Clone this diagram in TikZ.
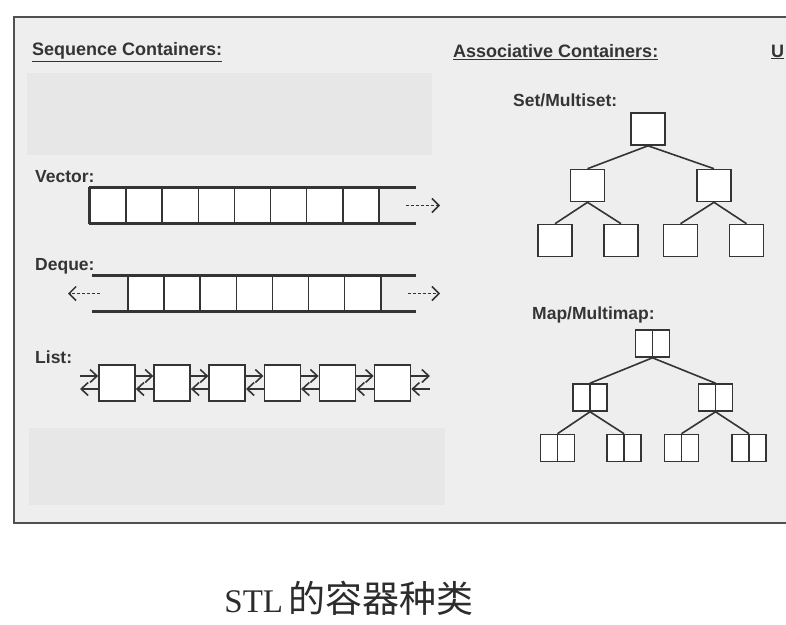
\documentclass[tikz,border=0pt]{standalone}
\usepackage{fontspec}
\setmainfont{Liberation Serif}
\setsansfont{Liberation Sans}
\newfontfamily\cjk{Noto Sans CJK SC}
\usepackage{tikz}
\usetikzlibrary{positioning,arrows.meta,calc}
\definecolor{ink}{RGB}{52,52,52}
\definecolor{paper}{RGB}{238,238,238}
\definecolor{blank}{RGB}{231,231,231}
\definecolor{frameln}{RGB}{80,80,80}
\tikzset{
  head/.style={font=\sffamily\bfseries\fontsize{18}{20}\selectfont, text=ink,
    anchor=west, inner sep=0pt},
  lbl/.style={font=\sffamily\bfseries\fontsize{17.5}{20}\selectfont, text=ink,
    anchor=west, inner sep=0pt},
  cell/.style={draw=ink, fill=white, line width=1.6pt, minimum width=36.1pt,
    minimum height=35pt, inner sep=0pt},
  lcell/.style={draw=ink, fill=white, line width=1.6pt, minimum width=36pt,
    minimum height=36pt, inner sep=0pt},
  tcell/.style={draw=ink, fill=white, line width=1.6pt, minimum width=34pt,
    minimum height=32pt, inner sep=0pt},
  mcell/.style={draw=ink, fill=white, line width=1.6pt, minimum width=34pt,
    minimum height=27pt, inner sep=0pt,
    path picture={\draw[ink, line width=1.6pt] (path picture bounding box.north)
      -- (path picture bounding box.south);}},
  rail/.style={draw=ink, line width=3.2pt},
  growarrow/.style={-{Straight Barb[length=7pt,width=14pt,line width=1.5pt]},
    dash pattern=on 3pt off 2pt, line width=1.3pt, draw=ink},
  link/.style={-{Straight Barb[length=7pt,width=13pt,line width=1.6pt]},
    line width=1.6pt, draw=ink},
  treeedge/.style={line width=1.6pt, draw=ink},
}

\begin{document}
\begin{tikzpicture}[x=1pt,y=-1pt]
  \clip (0,0) rectangle (786,624);
  \fill[white] (0,0) rectangle (786,624);
  \filldraw[fill=paper, draw=frameln, line width=1.8pt] (14,17) rectangle (800,523);
  \fill[blank] (27,73) rectangle (432,155);
  \fill[blank] (29,428) rectangle (445,505);

  % headings
  \node[head] (seqh) at (32,52) {\underline{Sequence Containers:}};
  \node[head] (assh) at (453,52) {\underline{Associative Containers:}};
  \node[head] (unoh) at (771,52) {\underline{U}};

  % vector
  \node[lbl] (vecl) at (35,177) {Vector:};
  \foreach \i in {1,...,8}
    \node[cell] (v\i) at ({90+36.1*(\i-0.5)},205.5) {};
  \coordinate (vend) at (416,205.5);
  \draw[rail] (v1.north west) -- (v1.north west -| vend);
  \draw[rail] (v1.south west) -- (v1.south west -| vend);
  \draw[rail] (v1.north west) -- (v1.south west);
  \coordinate (vout) at (440,205.5);
  \draw[growarrow] ([xshift=26pt]v8.east) -- (vout);

  % deque
  \node[lbl] (deql) at (35,266) {Deque:};
  \foreach \i in {1,...,7}
    \node[cell] (d\i) at ({128+36.1*(\i-0.5)},293.5) {};
  \coordinate (dleft) at (92,293.5);
  \coordinate (dright) at (416,293.5);
  \draw[rail] (d1.north west -| dleft) -- (d1.north west -| dright);
  \draw[rail] (d1.south west -| dleft) -- (d1.south west -| dright);
  \coordinate (dlout) at (68,293.5);
  \coordinate (drout) at (440,293.5);
  \draw[growarrow] ([xshift=-27pt]d1.west) -- (dlout);
  \draw[growarrow] ([xshift=26pt]d7.east) -- (drout);

  % list
  \node[lbl] (lstl) at (35,357) {List:};
  \foreach \i in {1,...,6}
    \node[lcell] (l\i) at ({117+55.1*(\i-1)},383) {};
  \coordinate (lfree) at (80,383);
  \coordinate (rfree) at (430,383);
  \draw[link] ([yshift=7pt]lfree) -- ([yshift=7pt]l1.west);
  \draw[link] ([yshift=-6pt]l1.west) -- ([yshift=-6pt]lfree);
  \foreach \i [evaluate=\i as \j using int(\i+1)] in {1,...,5} {
    \draw[link] ([yshift=7pt]l\i.east) -- ([yshift=7pt]l\j.west);
    \draw[link] ([yshift=-6pt]l\j.west) -- ([yshift=-6pt]l\i.east);
  }
  \draw[link] ([yshift=7pt]l6.east) -- ([yshift=7pt]rfree);
  \draw[link] ([yshift=-6pt]rfree) -- ([yshift=-6pt]l6.east);

  % set / multiset
  \node[lbl] (setl) at (513,100) {Set/Multiset:};
  \node[tcell] (s0) at (648,129) {};
  \node[tcell] (s1) at (587.5,185.5) {};
  \node[tcell] (s2) at (714,185.5) {};
  \node[tcell] (s11) at (555,240.5) {};
  \node[tcell] (s12) at (621,240.5) {};
  \node[tcell] (s21) at (680.5,240.5) {};
  \node[tcell] (s22) at (746.5,240.5) {};
  \foreach \a/\b in {s0/s1,s0/s2,s1/s11,s1/s12,s2/s21,s2/s22}
    \draw[treeedge] (\a.south) -- (\b.north);

  % map / multimap
  \node[lbl] (mapl) at (532,315) {Map/Multimap:};
  \node[mcell] (m0) at (652.5,343.5) {};
  \node[mcell] (m1) at (590,397.5) {};
  \node[mcell] (m2) at (715.5,397.5) {};
  \node[mcell] (m11) at (557.5,448) {};
  \node[mcell] (m12) at (624,448) {};
  \node[mcell] (m21) at (681.5,448) {};
  \node[mcell] (m22) at (749,448) {};
  \foreach \a/\b in {m0/m1,m0/m2,m1/m11,m1/m12,m2/m21,m2/m22}
    \draw[treeedge] (\a.south) -- (\b.north);

  % caption
  \node[font=\fontsize{33}{36}\selectfont, text=ink!85!black, inner sep=0pt] (cap) at (349,598)
    {STL\,{\cjk\fontsize{37}{40}\selectfont 的容器种类}};
\end{tikzpicture}
\end{document}
